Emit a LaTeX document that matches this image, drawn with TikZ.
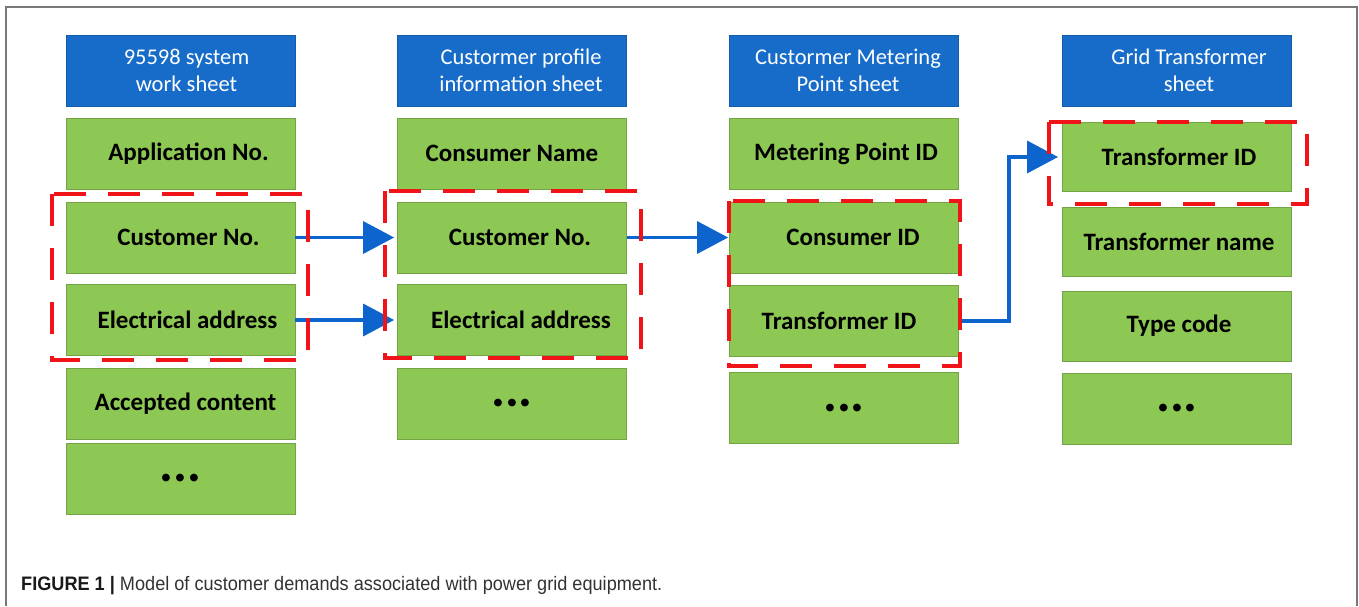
\documentclass[tikz,border=0pt]{standalone}
\usepackage{fontspec}
\usetikzlibrary{arrows.meta}
\newfontfamily\carl{Carlito}
\newfontfamily\capfont[FakeStretch=0.93]{Liberation Sans}
\definecolor{hdrblue}{RGB}{22,108,200}
\definecolor{fieldgreen}{RGB}{141,200,84}
\definecolor{linkblue}{RGB}{12,100,204}
\definecolor{groupred}{RGB}{240,20,24}
\definecolor{framegray}{RGB}{120,120,120}
\definecolor{captext}{RGB}{50,50,50}
\newcommand\nudge[1]{\hspace*{#1pt}}
\tikzset{
  head/.style={rectangle, fill=hdrblue, draw=hdrblue!85!black, line width=0.6pt,
    minimum width=229pt, minimum height=71pt, inner sep=0pt, text=white,
    align=center, font=\carl\fontsize{22.5}{27}\selectfont},
  field/.style={rectangle, fill=fieldgreen, draw=fieldgreen!82!black, line width=0.8pt,
    minimum width=229pt, minimum height=71pt, inner sep=0pt, text=black,
    font=\carl\bfseries\fontsize{25}{30}\selectfont},
  more/.style={field, font=\carl\bfseries\fontsize{52}{60}\selectfont},
  link/.style={draw=linkblue, line width=3.5pt, -{Triangle[length=31pt,width=32pt]}},
  group/.style={draw=groupred, line width=3.3pt, dash pattern=on 32pt off 22pt},
}
\begin{document}
\begin{tikzpicture}[x=1pt, y=-1pt]
\useasboundingbox (0,0) rectangle (1359,606);
% outer frame
\draw[framegray, line width=1.5pt] (6,606) -- (6,7) -- (1357,7) -- (1357,606);

% 95598 system work sheet
\node[head]  (h1)  at (180.5,70.5) {\nudge{12}95598 system\\\nudge{12}work sheet};
\node[field] (a1)  at (180.5,153.5) {\nudge{16}Application No.};
\node[field] (a2)  at (180.5,237.5) {\nudge{16}Customer No.};
\node[field] (a3)  at (180.5,320)   {\nudge{14}Electrical address};
\node[field] (a4)  at (180.5,403.5) {\nudge{10}Accepted content};
\node[more]  (a5)  at (180.5,478.5) {...};

% customer profile information sheet
\node[head]  (h2)  at (512,70.5) {\nudge{18}Custormer profile\\\nudge{18}information sheet};
\node[field] (b1)  at (512,153.5) {Consumer Name};
\node[field] (b2)  at (512,237.5) {\nudge{16}Customer No.};
\node[field] (b3)  at (512,320)   {\nudge{18}Electrical address};
\node[more]  (b4)  at (512,403.5) {...};

% customer metering point sheet
\node[head]  (h3)  at (844,70.5) {\nudge{8}Custormer Metering\\\nudge{8}Point sheet};
\node[field] (c1)  at (844,153.5) {\nudge{4}Metering Point ID};
\node[field] (c2)  at (844,237.5) {\nudge{18}Consumer ID};
\node[field] (c3)  at (844,321)   {\nudge{-10}Transformer ID};
\node[more]  (c4)  at (844,408)   {...};

% grid transformer sheet
\node[head]  (h4)  at (1177,70.5) {\nudge{24}Grid Transformer\\\nudge{24}sheet};
\node[field, minimum height=69pt] (d1) at (1177,157)   {\nudge{4}Transformer ID};
\node[field, minimum height=69pt] (d2) at (1177,241.5) {\nudge{4}Transformer name};
\node[field, minimum height=70pt] (d3) at (1177,326)   {\nudge{4}Type code};
\node[more]  (d4)  at (1177,408.5) {...};

% key links between the sheets
\draw[link, shorten >=3pt] (a2.east) -- (b2.west);
\draw[link, shorten >=3pt] (a3.east) -- (b3.west);
\draw[link, shorten >=1pt] (b2.east) -- (c2.west);
\draw[link, shorten >=4pt] (c3.east) -- ++(50,0) |- (d1.west);

% matched key groups
\draw[group] (52,194) rectangle (308,360);
\draw[group] (385,191) rectangle (641,358);
\draw[group] (729,201) rectangle (960,366);
\draw[group] (1049,122) rectangle (1307,204);

% caption
\node[anchor=west, inner sep=0pt, text=captext, font=\capfont\fontsize{19.5}{22}\selectfont] (cap) at (21,586)
  {{\bfseries\color{black!90}FIGURE 1 |} Model of customer demands associated with power grid equipment.};
\end{tikzpicture}
\end{document}
